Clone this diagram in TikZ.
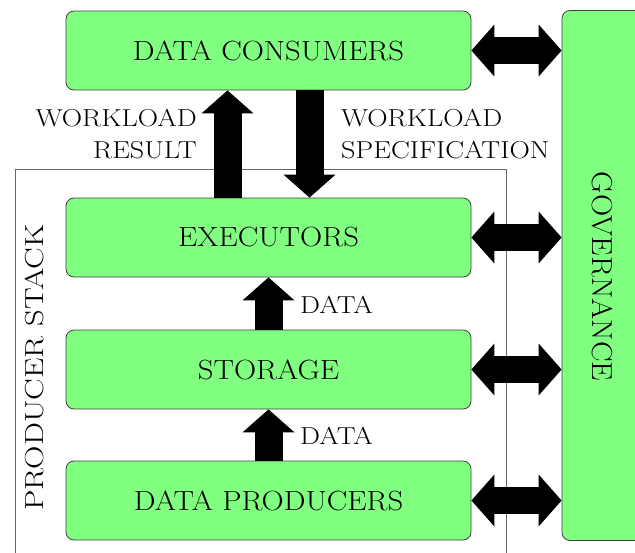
\documentclass[tikz,border=0pt]{standalone}
\usepackage{graphicx}
\usetikzlibrary{arrows.meta,calc}
\newcommand\bxfont{\fontsize{27.5}{33}\selectfont}
\newcommand\lblfont{\fontsize{24.5}{31.5}\selectfont}
\newcommand\widetxt[1]{\scalebox{1.117}[1.01]{#1}}
\begin{document}
\begin{tikzpicture}[x=1pt,y=-1pt,
  box/.style={draw=black!75, line width=0.8pt, fill=green!50, rounded corners=8pt,
    minimum width=405pt, minimum height=79pt, inner sep=0pt, font=\bxfont},
  govbox/.style={draw=black!75, line width=0.8pt, fill=green!50, rounded corners=8pt,
    minimum width=92pt, minimum height=530pt, inner sep=0pt},
  stackbox/.style={draw=black!60, line width=1pt},
  lbl/.style={font=\lblfont, inner sep=0pt, xscale=1.15, transform shape},
  fat/.style={line width=28pt, arrows={-Triangle[length=23pt,width=52pt,line width=0pt]}},
  fatdbl/.style={line width=27pt, arrows={Triangle[length=23pt,width=52pt,line width=0pt]-Triangle[length=23pt,width=52pt,line width=0pt]}}
]
\useasboundingbox (0,0) rectangle (635,552);
\clip (0,0) rectangle (635,552);
% producer stack frame
\draw[stackbox] (15,169) rectangle (506,575);
\node[rotate=90, font=\bxfont, inner sep=0pt] (stacklbl) at (34.5,367.5) {\scalebox{1.18}[0.95]{PRODUCER STACK}};
% boxes
\node[box] (cons) at (268.5,50.5) {\widetxt{DATA CONSUMERS}};
\node[box] (exe) at (268.5,237.5) {\widetxt{EXECUTORS}};
\node[box] (sto) at (268.5,369.5) {\widetxt{STORAGE}};
\node[box] (prod) at (268.5,500.5) {\widetxt{DATA PRODUCERS}};
\node[govbox] (gov) at (608,275.5) {};
\node[rotate=-90, font=\bxfont, inner sep=0pt] (govlbl) at (602,276.5) {\scalebox{1.12}[1.05]{GOVERNANCE}};
% vertical arrows
\draw[fat] ([xshift=-41pt]exe.north) -- ([xshift=-41pt]cons.south);
\draw[fat] ([xshift=41pt]cons.south) -- ([xshift=41pt]exe.north);
\draw[fat] (sto.north) -- (exe.south);
\draw[fat] (prod.north) -- (sto.south);
% horizontal double arrows
\draw[fatdbl] (cons.east) -- (cons.east -| gov.west);
\draw[fatdbl] (exe.east) -- (exe.east -| gov.west);
\draw[fatdbl] (sto.east) -- (sto.east -| gov.west);
\draw[fatdbl] (prod.east) -- (prod.east -| gov.west);
% labels
\node[lbl, anchor=east, align=right] (wres) at (197,134) {WORKLOAD\\RESULT};
\node[lbl, anchor=west, align=left] (wspec) at (341,134) {WORKLOAD\\SPECIFICATION};
\node[lbl, anchor=west] (data1) at (300,304.5) {DATA};
\node[lbl, anchor=west] (data2) at (300,435.5) {DATA};
\end{tikzpicture}
\end{document}
